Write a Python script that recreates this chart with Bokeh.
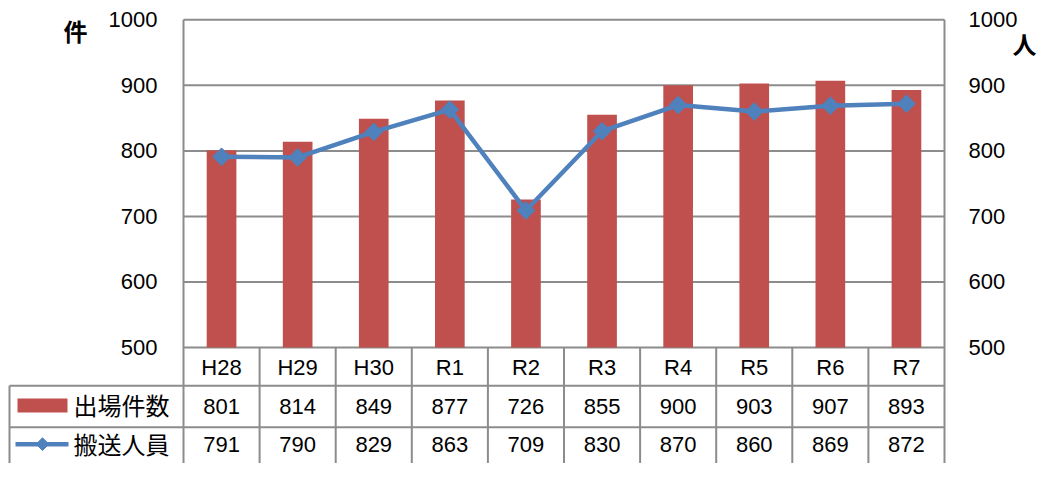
import math
from bokeh.plotting import figure
from bokeh.models import Range1d, LinearAxis, FixedTicker
from bokeh.core.properties import value
from bokeh.embed import file_html
from bokeh.resources import INLINE

# ---- data ----
categories = ["H28", "H29", "H30", "R1", "R2", "R3", "R4", "R5", "R6", "R7"]
dispatches = [801, 814, 849, 877, 726, 855, 900, 903, 907, 893]
transported = [791, 790, 829, 863, 709, 830, 870, 860, 869, 872]
y_ticks = [500, 600, 700, 800, 900, 1000]
series_names = ["出場件数", "搬送人員"]
left_unit = "件"
right_unit = "人"

# ---- geometry (reference-image pixels) ----
PLOT_L, PLOT_R, PLOT_T, PLOT_B = 183, 944, 20, 359
REF_H = 479
W, H = 1038, 463
n = len(categories)
col_px = (PLOT_R - PLOT_L) / n
y_min, y_max = y_ticks[0], y_ticks[-1]
px_per_unit = (PLOT_B - PLOT_T) / (y_max - y_min)


def xd(px):
    return (px - PLOT_L) / col_px


def yd(px):
    return y_max - (px - PLOT_T) / px_per_unit


BAR = "#C0504D"
LINE = "#4F81BD"
GRID = "#8C8C8C"
NUM_FONT = value("Liberation Sans")
CJK_FONT = value("Noto Sans CJK JP")

p = figure(width=W, height=H,
           x_range=Range1d(xd(0), xd(W)),
           y_range=Range1d(yd(REF_H), yd(0)),
           output_backend="svg", toolbar_location=None,
           x_axis_location=None, y_axis_location=None,
           min_border=0)
p.outline_line_color = None
p.background_fill_color = "white"
p.border_fill_color = "white"
p.grid.visible = False

xs = [i + 0.5 for i in range(n)]

# gridlines (incl. plot top/bottom)
p.segment(x0=[0] * len(y_ticks), x1=[n] * len(y_ticks), y0=y_ticks, y1=y_ticks,
          line_color=GRID, line_width=2)

# bars & line
p.vbar(x=xs, top=dispatches, bottom=y_min, width=0.39, fill_color=BAR, line_color=None)
p.line(xs, transported, line_color=LINE, line_width=4.5)
p.scatter(xs, transported, marker="square", angle=math.pi / 4, size=12.5,
          fill_color=LINE, line_color=LINE)

# ---- table ----
y_cat_bot = yd(398.5)
y_row1_bot = yd(441.5)
y_tab_bot = yd(REF_H + 10)
x_tab_left = xd(9)

# vertical lines: plot borders and column separators
p.segment(x0=[0, n], x1=[0, n], y0=[y_max, y_max], y1=[y_tab_bot, y_tab_bot],
          line_color=GRID, line_width=2)
inner = list(range(1, n))
p.segment(x0=inner, x1=inner, y0=[y_min] * len(inner), y1=[y_tab_bot] * len(inner),
          line_color=GRID, line_width=2)
p.segment(x0=[x_tab_left], x1=[x_tab_left], y0=[y_cat_bot], y1=[y_tab_bot],
          line_color=GRID, line_width=2)
p.segment(x0=[x_tab_left, x_tab_left], x1=[n, n], y0=[y_cat_bot, y_row1_bot],
          y1=[y_cat_bot, y_row1_bot], line_color=GRID, line_width=2)

# category row and values
p.text(x=xs, y=[yd(379.5)] * n, text=categories, text_align="center",
       text_baseline="middle", text_font=NUM_FONT, text_font_size="22px", text_color="black")
p.text(x=xs, y=[yd(420)] * n, text=[str(v) for v in dispatches], text_align="center",
       text_baseline="middle", text_font=NUM_FONT, text_font_size="22px", text_color="black")
p.text(x=xs, y=[yd(459)] * n, text=[str(v) for v in transported], text_align="center",
       text_baseline="middle", text_font=NUM_FONT, text_font_size="22px", text_color="black")

# legend keys
p.rect(x=[xd(42)], y=[yd(419)], width=50, height=14, width_units="screen",
       height_units="screen", fill_color=BAR, line_color=None)
p.segment(x0=[xd(15)], x1=[xd(68)], y0=[yd(459)], y1=[yd(459)], line_color=LINE, line_width=4.5)
p.scatter([xd(42)], [yd(459)], marker="square", angle=math.pi / 4, size=9,
          fill_color=LINE, line_color=LINE)
p.text(x=[xd(73), xd(73)], y=[yd(418), yd(458)], text=series_names, text_align="left",
       text_baseline="middle", text_font=CJK_FONT, text_font_size="24px", text_color="black")

# unit labels
p.text(x=[xd(75)], y=[yd(31)], text=[left_unit], text_align="center", text_baseline="middle",
       text_font=CJK_FONT, text_font_size="24px", text_font_style="bold", text_color="black")
p.text(x=[xd(1024)], y=[yd(44)], text=[right_unit], text_align="center", text_baseline="middle",
       text_font=CJK_FONT, text_font_size="24px", text_font_style="bold", text_color="black")

# axes
for side, loc, standoff in (("left", 0, 26), ("right", n, 24)):
    ax = LinearAxis(ticker=FixedTicker(ticks=y_ticks), fixed_location=loc)
    ax.axis_line_color = None
    ax.major_tick_line_color = None
    ax.minor_tick_line_color = None
    ax.major_tick_in = 0
    ax.major_tick_out = 0
    ax.minor_tick_out = 0
    ax.major_label_standoff = standoff
    ax.major_label_text_font = "Liberation Sans"
    ax.major_label_text_font_size = "22px"
    ax.major_label_text_color = "black"
    p.add_layout(ax, side)

open("out.html", "w").write(file_html(p, INLINE))
